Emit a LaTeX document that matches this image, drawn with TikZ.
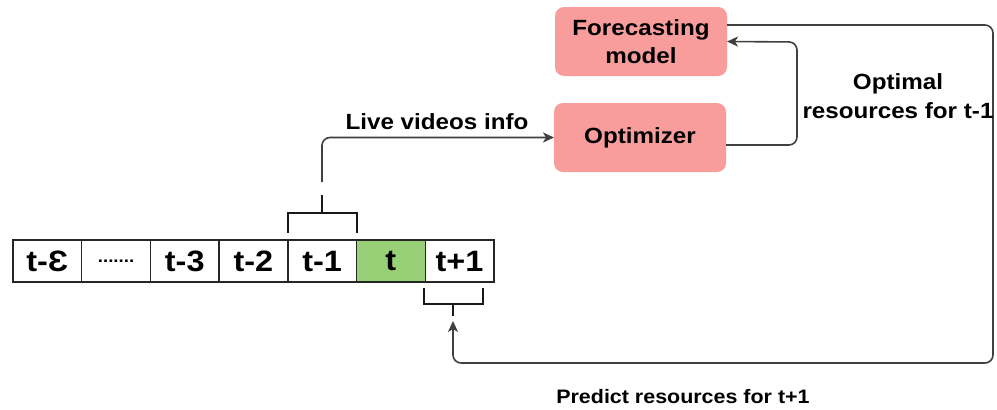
\documentclass[tikz,border=0pt]{standalone}
\usepackage{fontspec}
\setmainfont{Liberation Sans}[FakeStretch=1.1]
\usetikzlibrary{arrows.meta}
\definecolor{boxpink}{HTML}{F89C9C}
\definecolor{cellgreen}{HTML}{97D077}
\tikzset{
  cell/.style={draw=black!85, line width=1.4pt, minimum width=68.7pt, minimum height=42pt, inner sep=0pt, outer sep=0pt, font=\fontsize{29.5}{30}\selectfont\bfseries},
  procbox/.style={fill=boxpink, rounded corners=9pt, minimum width=172pt, minimum height=69pt, inner sep=0pt, outer sep=0pt, align=center, font=\fontsize{22}{28}\selectfont\bfseries},
  conn/.style={draw=black!75, line width=1.6pt, rounded corners=8pt},
  arr/.style={-{Stealth[length=11pt,width=10pt,inset=3pt]}},
  lbl/.style={align=center, font=\fontsize{22}{29}\selectfont\bfseries, inner sep=0pt}
}
\begin{document}
\begin{tikzpicture}[x=1pt,y=-1pt]
\useasboundingbox[fill=white] (0,0) rectangle (997,410);
% timeline cells
\node[cell] (c1) at (47.35,261) {t-Ɛ};
\node[cell] (c2) at (116.05,261) {\fontsize{17}{18}\selectfont .......};
\node[cell] (c3) at (184.75,261) {t-3};
\node[cell] (c4) at (253.45,261) {t-2};
\node[cell] (c5) at (322.15,261) {t-1};
\node[cell, fill=cellgreen] (c6) at (390.85,261) {t};
\node[cell] (c7) at (459.55,261) {t+1};
% process boxes
\node[procbox] (fore) at (641,41.5) {Forecasting\\model};
\node[procbox] (opt) at (640,137.5) {Optimizer};
% bracket above t-1
\coordinate (bA) at (288,233);
\coordinate (bB) at (357,233);
\coordinate (bS) at (322,213);
\coordinate (bT) at (322,195);
\draw[conn, draw=black!90, rounded corners=0pt] (bA) -- (288,213) -- (357,213) -- (bB);
\draw[conn, draw=black!90, rounded corners=0pt] (bS) -- (bT);
% live videos arrow
\coordinate (lvs) at (322,182);
\draw[conn, arr] (lvs) |- (opt.west);
% optimizer -> forecasting
\draw[conn, arr] ([yshift=-7.5pt]opt.east) -- (797,145) -- (797,42) -- (fore.east);
% bracket below t+1
\coordinate (dA) at (424,288);
\coordinate (dB) at (483,288);
\coordinate (dS) at (453,304);
\coordinate (dT) at (453,316);
\draw[conn, draw=black!90, rounded corners=0pt] (dA) -- (424,304) -- (483,304) -- (dB);
\draw[conn, draw=black!90, rounded corners=0pt] (dS) -- (dT);
% forecasting -> t+1
\coordinate (ptip) at (453,321);
\draw[conn, arr] ([yshift=16.5pt]fore.east) -- (993,25) -- (993,363) -- (453,363) -- (ptip);
% labels
\node[lbl] (l1) at (437,122) {Live videos info};
\node[lbl] (l2) at (898,96) {Optimal\\resources for t-1};
\node[lbl, font=\fontsize{19.5}{24}\selectfont\bfseries] (l3) at (683,397) {Predict resources for t+1};
\end{tikzpicture}
\end{document}
